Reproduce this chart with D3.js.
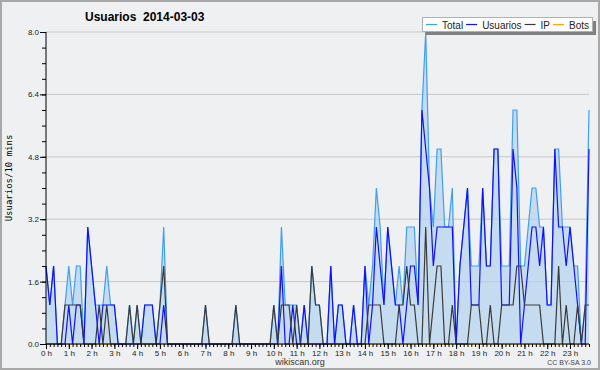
<!DOCTYPE html>
<html>
<head>
<meta charset="utf-8">
<script src="https://cdn.jsdelivr.net/npm/d3@7"></script>
<style>
  body { margin: 0; background: #fff; }
  text { font-family: "Liberation Sans", Arial, sans-serif; }
</style>
</head>
<body>
<svg id="chart"></svg>
<script>
// one value every 10 minutes, 0 h .. 23 h 50
const total = [
  2,1,2,0,0,1,2,1,2,2,0,3,
  2,1,1,1,2,1,1,0,0,0,1,0,
  1,0,1,1,1,0,1,3,0,0,0,0,
  0,0,0,0,0,0,1,0,0,0,0,0,
  0,0,1,0,0,0,0,0,0,0,0,0,
  1,0,3,1,1,1,1,0,1,0,2,1,
  1,0,0,2,0,1,1,0,0,1,0,0,
  2,1,2,4,3,1,3,2,1,2,1,3,
  3,3,1,6,8,4,3,5,5,3,3,4,
  0,2,3,4,2,2,2,4,2,2,5,5,
  2,2,2,6,6,2,2,3,4,4,3,3,
  1,1,5,5,3,3,3,2,2,0,1,6
];
const usuarios = [
  2,1,2,0,0,0,1,0,1,1,0,3,
  2,1,0,1,1,1,1,0,0,0,0,0,
  0,0,1,1,1,0,0,1,0,0,0,0,
  0,0,0,0,0,0,0,0,0,0,0,0,
  0,0,0,0,0,0,0,0,0,0,0,0,
  0,0,2,0,0,1,0,0,1,0,0,0,
  0,0,0,2,0,1,1,0,0,1,0,0,
  2,0,1,3,2,1,3,2,1,1,0,1,
  2,2,1,6,5,4,2,3,3,3,3,3,
  0,2,3,4,1,1,1,4,2,2,5,5,
  1,1,1,5,4,0,1,2,3,3,2,3,
  1,1,5,3,3,2,3,2,1,0,0,5
];
const ip = [
  0,0,0,0,0,1,1,1,1,1,0,0,
  0,0,1,0,1,0,0,0,0,0,1,0,
  1,0,0,0,0,0,1,2,0,0,0,0,
  0,0,0,0,0,0,1,0,0,0,0,0,
  0,0,1,0,0,0,0,0,0,0,0,0,
  1,0,1,1,1,0,1,0,0,0,2,1,
  1,0,0,0,0,0,0,0,0,0,0,0,
  0,1,1,1,1,0,0,0,0,1,1,2,
  1,1,0,0,3,0,1,2,2,0,0,1,
  0,0,0,0,1,1,1,0,0,1,0,0,
  1,1,1,1,2,2,1,1,1,1,1,0,
  0,0,0,2,0,1,0,0,1,0,1,1
];
const bots = [
  0,0,0,0,0,0,0,0,0,0,0,0,
  0,0,0,0,0,0,0,0,0,0,0,0,
  0,0,0,0,0,0,0,0,0,0,0,0,
  0,0,0,0,0,0,0,0,0,0,0,0,
  0,0,0,0,0,0,0,0,0,0,0,0,
  0,0,0,0,0,0,0,0,0,0,0,0,
  0,0,0,0,0,0,0,0,0,0,0,0,
  0,0,0,0,0,0,0,0,0,0,0,0,
  0,0,0,0,0,0,0,0,0,0,0,0,
  0,0,0,0,0,0,0,0,0,0,0,0,
  0,0,0,0,0,0,0,0,0,0,0,0,
  0,0,0,0,0,0,0,0,0,0,0,0
];
const hourLabels = ["0 h","1 h","2 h","3 h","4 h","5 h","6 h","7 h","8 h","9 h","10 h","11 h",
  "12 h","13 h","14 h","15 h","16 h","17 h","18 h","19 h","20 h","21 h","22 h","23 h"];
const yTicks = [0, 1.6, 3.2, 4.8, 6.4, 8.0];
const seriesNames = ["Total", "Usuarios", "IP", "Bots"];

const W = 600, H = 370;
const margin = { top: 32, right: 11, bottom: 26, left: 46 },
      width = W - margin.left - margin.right,
      height = H - margin.top - margin.bottom;

const colors = { Total: "#3f9ff0", Usuarios: "#1010ff", IP: "#3a3a3a", Bots: "#ffa500" };

const root = d3.select("#chart").attr("width", W).attr("height", H);

// frame
root.append("rect")
  .attr("x", 1).attr("y", 1).attr("width", W - 2).attr("height", H - 2)
  .attr("fill", "#eff0f2").attr("stroke", "#a8a8a8").attr("stroke-width", 2);

root.append("text")
  .attr("x", 85).attr("y", 21)
  .style("font-weight", "bold").style("font-size", "12px").style("white-space", "pre")
  .text("Usuarios  2014-03-03");

root.append("text")
  .attr("transform", "translate(12,178) rotate(-90)")
  .attr("text-anchor", "middle")
  .style("font-family", "'DejaVu Sans Mono', monospace").style("font-size", "9px")
  .text("Usuarios/10 mins");

root.append("text")
  .attr("x", 300).attr("y", 365).attr("text-anchor", "middle")
  .style("font-size", "9px").attr("fill", "#333")
  .text("wikiscan.org");

root.append("text")
  .attr("x", 591).attr("y", 365).attr("text-anchor", "end")
  .style("font-size", "7px").attr("fill", "#444")
  .text("CC BY-SA 3.0");

const svg = root.append("g")
  .attr("transform", `translate(${margin.left},${margin.top})`);

const x = d3.scaleLinear().domain([0, total.length - 1]).range([0, width]);
const y = d3.scaleLinear().domain([0, 8]).range([height, 0]);

// filled total
svg.append("path")
  .datum(total)
  .attr("fill", "#c5dcf0")
  .attr("d", d3.area().x((d, i) => x(i)).y0(y(0)).y1(d => y(d)));

// grid
svg.append("g")
  .selectAll("line")
  .data(yTicks.slice(1))
  .join("line")
  .attr("x1", 0).attr("x2", width)
  .attr("y1", d => y(d)).attr("y2", d => y(d))
  .attr("stroke", "#c8c8c8").attr("stroke-width", 1);

const line = d3.line().x((d, i) => x(i)).y(d => y(d));
const series = [
  { name: "Bots", values: bots },
  { name: "Total", values: total },
  { name: "Usuarios", values: usuarios },
  { name: "IP", values: ip }
];
svg.selectAll("path.serie")
  .data(series)
  .join("path")
  .attr("class", "serie")
  .attr("fill", "none")
  .attr("stroke", d => colors[d.name])
  .attr("stroke-width", 1.2)
  .attr("d", d => line(d.values));

// axes
const yMinor = svg.append("g")
  .call(d3.axisLeft(y).tickValues(d3.range(0, 8.01, 0.4)).tickSize(4).tickFormat(""));
yMinor.select(".domain").remove();

const yAxis = svg.append("g")
  .call(d3.axisLeft(y).tickValues(yTicks).tickSize(6).tickPadding(1).tickFormat(d3.format(".1f")));
yAxis.selectAll("text").style("font-size", "8px").attr("fill", "#222");

const xMinor = svg.append("g")
  .attr("transform", `translate(0,${height})`)
  .call(d3.axisBottom(x).tickValues(d3.range(0, total.length)).tickSize(3).tickFormat(""));
xMinor.select(".domain").remove();

const xAxis = svg.append("g")
  .attr("transform", `translate(0,${height})`)
  .call(d3.axisBottom(x)
    .tickValues(hourLabels.map((h, k) => k * 6))
    .tickSize(5).tickPadding(1)
    .tickFormat((d, k) => hourLabels[k]));
xAxis.selectAll("text").style("font-size", "8px").attr("fill", "#222");
xAxis.select(".domain").attr("d", `M0,0H${width}`);
yAxis.select(".domain").attr("d", `M0,${height}V0`);

// legend
const legend = root.append("g");
const shadow = legend.append("rect").attr("fill", "#808080");
const box = legend.append("rect").attr("fill", "#fff").attr("stroke", "#b0b0b0");
let cx = 426;
seriesNames.forEach(name => {
  legend.append("line")
    .attr("x1", cx).attr("x2", cx + 11).attr("y1", 24.5).attr("y2", 24.5)
    .attr("stroke", colors[name]).attr("stroke-width", 1.2);
  const t = legend.append("text")
    .attr("x", cx + 16).attr("y", 28.5)
    .style("font-size", "10px").attr("fill", "#222")
    .text(name);
  cx += 16 + t.node().getComputedTextLength() + 3;
});
box.attr("x", 422.5).attr("y", 17.5).attr("width", cx - 422).attr("height", 14);
shadow.attr("x", 426).attr("y", 21).attr("width", cx - 422).attr("height", 14);
</script>
</body>
</html>
